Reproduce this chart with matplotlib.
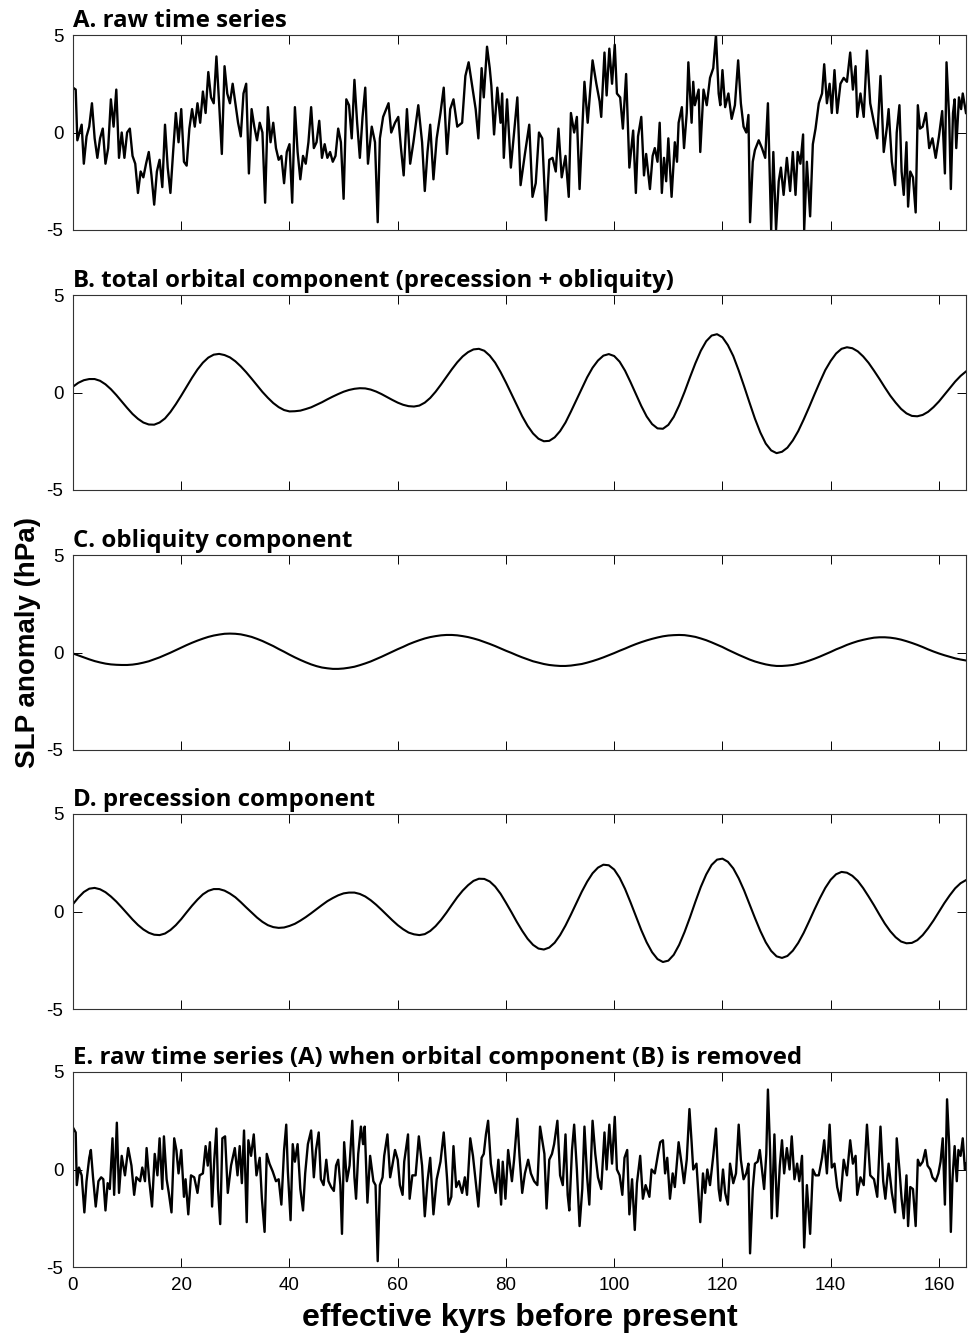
import numpy as np
import matplotlib
matplotlib.use("Agg")
import matplotlib.pyplot as plt

plt.rcParams['axes.unicode_minus'] = False
plt.rcParams['font.family'] = ['Liberation Sans', 'DejaVu Sans']

# time axis for the smooth components (kyr)
kyr = np.arange(166)

# B. total orbital component
orb_total = [0.30, 0.50, 0.63, 0.69, 0.69, 0.60, 0.42, 0.17, -0.13, -0.46,
             -0.79, -1.10, -1.35, -1.54, -1.64, -1.65, -1.54, -1.33, -1.00, -0.60,
             -0.16, 0.30, 0.76, 1.18, 1.53, 1.79, 1.94, 1.98, 1.92, 1.80,
             1.60, 1.34, 1.04, 0.71, 0.37, 0.03, -0.27, -0.54, -0.75, -0.90,
             -0.97, -0.96, -0.93, -0.85, -0.76, -0.63, -0.50, -0.35, -0.21, -0.08,
             0.04, 0.13, 0.19, 0.22, 0.21, 0.15, 0.05, -0.08, -0.23, -0.38,
             -0.52, -0.63, -0.70, -0.72, -0.67, -0.52, -0.28, 0.04, 0.41, 0.80,
             1.19, 1.55, 1.85, 2.07, 2.21, 2.24, 2.14, 1.89, 1.53, 1.05,
             0.51, -0.07, -0.66, -1.22, -1.71, -2.10, -2.37, -2.50, -2.48, -2.30,
             -1.98, -1.54, -0.98, -0.39, 0.21, 0.78, 1.27, 1.64, 1.89, 1.97,
             1.87, 1.58, 1.12, 0.54, -0.08, -0.69, -1.23, -1.62, -1.84, -1.86,
             -1.66, -1.25, -0.66, 0.03, 0.78, 1.50, 2.14, 2.63, 2.92, 2.99,
             2.83, 2.43, 1.87, 1.13, 0.32, -0.52, -1.34, -2.05, -2.62, -2.97,
             -3.11, -3.04, -2.83, -2.46, -1.98, -1.39, -0.76, -0.10, 0.54, 1.15,
             1.62, 2.00, 2.24, 2.32, 2.27, 2.11, 1.85, 1.52, 1.12, 0.70,
             0.26, -0.16, -0.52, -0.84, -1.07, -1.20, -1.22, -1.15, -0.99, -0.75,
             -0.46, -0.12, 0.22, 0.56, 0.85, 1.08]

# C. obliquity component
obliquity = [-0.05, -0.15, -0.25, -0.35, -0.44, -0.51, -0.57, -0.61, -0.63, -0.64,
             -0.64, -0.62, -0.58, -0.52, -0.45, -0.35, -0.25, -0.13, -0.01, 0.12,
             0.25, 0.38, 0.50, 0.61, 0.71, 0.80, 0.87, 0.92, 0.96, 0.97,
             0.96, 0.93, 0.87, 0.80, 0.70, 0.59, 0.46, 0.33, 0.18, 0.04,
             -0.11, -0.25, -0.38, -0.50, -0.61, -0.70, -0.77, -0.81, -0.84, -0.84,
             -0.82, -0.78, -0.73, -0.65, -0.56, -0.46, -0.34, -0.22, -0.09, 0.04,
             0.17, 0.29, 0.42, 0.53, 0.63, 0.72, 0.79, 0.84, 0.88, 0.90,
             0.90, 0.88, 0.84, 0.79, 0.72, 0.64, 0.54, 0.44, 0.33, 0.21,
             0.09, -0.02, -0.14, -0.25, -0.35, -0.45, -0.52, -0.59, -0.64, -0.67,
             -0.69, -0.69, -0.67, -0.63, -0.59, -0.52, -0.44, -0.35, -0.25, -0.14,
             -0.03, 0.09, 0.20, 0.32, 0.43, 0.53, 0.62, 0.70, 0.77, 0.83,
             0.87, 0.89, 0.90, 0.89, 0.85, 0.80, 0.72, 0.63, 0.52, 0.40,
             0.28, 0.14, 0.01, -0.12, -0.24, -0.36, -0.46, -0.54, -0.61, -0.66,
             -0.69, -0.69, -0.67, -0.64, -0.58, -0.51, -0.42, -0.32, -0.21, -0.09,
             0.03, 0.16, 0.27, 0.39, 0.49, 0.58, 0.65, 0.71, 0.76, 0.78,
             0.78, 0.76, 0.72, 0.66, 0.58, 0.49, 0.39, 0.28, 0.16, 0.05,
             -0.05, -0.14, -0.22, -0.30, -0.36, -0.41]

# D. precession component
precession = [0.38, 0.72, 1.00, 1.17, 1.21, 1.14, 0.99, 0.77, 0.51, 0.21,
              -0.10, -0.41, -0.69, -0.92, -1.09, -1.19, -1.21, -1.13, -0.95, -0.70,
              -0.39, -0.04, 0.30, 0.61, 0.88, 1.06, 1.15, 1.15, 1.07, 0.92,
              0.73, 0.48, 0.21, -0.05, -0.31, -0.53, -0.70, -0.80, -0.84, -0.82,
              -0.74, -0.63, -0.47, -0.29, -0.09, 0.12, 0.33, 0.53, 0.69, 0.83,
              0.93, 0.97, 0.97, 0.90, 0.77, 0.58, 0.35, 0.09, -0.18, -0.45,
              -0.70, -0.91, -1.08, -1.17, -1.21, -1.16, -1.00, -0.75, -0.43, -0.06,
              0.34, 0.73, 1.07, 1.35, 1.57, 1.68, 1.67, 1.54, 1.28, 0.91,
              0.45, -0.03, -0.53, -0.99, -1.40, -1.71, -1.90, -1.95, -1.85, -1.60,
              -1.21, -0.72, -0.16, 0.43, 1.01, 1.53, 1.96, 2.25, 2.40, 2.37,
              2.15, 1.73, 1.16, 0.48, -0.24, -0.95, -1.58, -2.09, -2.44, -2.59,
              -2.52, -2.22, -1.71, -1.05, -0.30, 0.50, 1.26, 1.90, 2.39, 2.66,
              2.71, 2.55, 2.21, 1.70, 1.08, 0.38, -0.33, -1.00, -1.58, -2.02,
              -2.30, -2.38, -2.28, -2.01, -1.61, -1.10, -0.51, 0.10, 0.68, 1.21,
              1.63, 1.91, 2.03, 1.99, 1.83, 1.57, 1.20, 0.77, 0.32, -0.16,
              -0.62, -1.01, -1.32, -1.54, -1.63, -1.61, -1.47, -1.21, -0.86, -0.46,
              -0.01, 0.43, 0.83, 1.19, 1.45, 1.61]

# A. raw time series (time, value)
raw_t = [0.0, 0.5, 0.8, 1.2, 1.6, 2.0, 2.5, 3.0, 3.5, 4.0, 4.5, 5.0, 5.5, 6.0, 6.5,
         7.0, 7.5, 8.0, 8.5, 9.0, 9.5, 10.0, 10.5, 11.0, 11.5, 12.0, 12.5, 13.0, 13.5,
         14.0, 14.5, 15.0, 15.5, 16.0, 16.5, 17.0, 17.5, 18.0, 18.5, 19.0, 19.5, 20.0,
         20.5, 21.0, 21.5, 22.0, 22.5, 23.0, 23.5, 24.0, 24.5, 25.0, 25.5, 26.0, 26.5,
         27.0, 27.5, 28.0, 28.5, 29.0, 29.5, 30.0, 30.5, 31.0, 31.5, 32.0, 32.5, 33.0,
         33.5, 34.0, 34.5, 35.0, 35.5, 36.0, 36.5, 37.0, 37.5, 38.0, 38.5, 39.0, 39.5,
         40.0, 40.5, 41.0, 41.5, 42.0, 42.5, 43.0, 43.5, 44.0, 44.5, 45.0, 45.5, 46.0,
         46.5, 47.0, 47.5, 48.0, 48.5, 49.0, 49.5, 50.0, 50.5, 51.0, 51.5, 52.0, 52.5,
         53.0, 53.5,
         54.0, 54.5, 55.2, 55.8, 56.3, 56.7, 57.3, 58.3, 58.8, 59.5, 60.1, 60.6, 61.1,
         61.7, 62.3, 62.9, 63.8, 64.5, 65.0, 65.5, 66.0, 66.6, 67.2, 67.9, 68.5, 69.1,
         69.7, 70.3, 71.0, 71.9, 72.5, 73.1, 73.7, 74.4, 74.9, 75.5, 75.9, 76.5, 77.0,
         77.3, 77.8, 78.4, 79.0, 79.3, 79.6, 80.2, 80.9, 81.5, 82.1, 82.7, 83.5, 84.3,
         84.9, 85.5, 86.1, 86.7, 87.4, 88.0, 88.6, 89.2, 89.7, 90.3, 91.0, 91.6, 92.0,
         92.6, 93.1, 93.6, 94.5, 95.1, 96.0, 96.7, 97.3, 97.6, 98.2, 98.6, 99.1, 99.6,
         100.1, 100.5, 101.1, 101.6, 102.2, 102.8, 103.5, 104.0, 104.4, 105.0, 105.5,
         105.9, 106.6, 107.1, 107.5, 108.0, 108.4,
         108.8, 109.2, 109.6, 110.0, 110.6, 111.2, 111.6, 111.9, 112.5, 112.9, 113.4,
         113.7, 114.3, 114.6, 114.9, 115.6, 115.9, 116.5, 117.1, 117.7, 118.3, 118.8,
         119.3, 119.6, 120.0, 120.5, 121.1, 121.7, 122.3, 122.9, 123.4, 123.9, 124.4,
         124.8, 125.1, 125.6, 126.0, 126.7, 127.3, 127.9, 128.4, 129.0, 129.4, 129.9,
         130.4, 130.8, 131.3, 131.9, 132.5, 133.0, 133.5, 133.9, 134.4, 134.9, 135.1,
         135.6, 136.2, 136.7, 137.2, 137.8, 138.4, 138.8, 139.3, 139.8, 140.2, 140.7,
         141.2, 141.8, 142.4, 143.0, 143.6, 144.1, 144.6, 144.9, 145.5, 146.1, 146.7,
         147.3, 148.0, 148.6, 149.2, 149.8, 150.4, 150.7, 151.3, 151.9, 152.2, 152.7,
         153.1, 153.5, 154.0, 154.3, 154.7, 155.2, 155.7, 156.1, 156.5, 157.0, 157.6,
         158.2, 158.8, 159.4, 160.0, 160.6, 161.1, 161.4, 161.9, 162.2, 162.6, 162.9,
         163.2, 163.7, 164.1, 164.4, 164.7, 165.0]
raw_v = [2.3, 2.2, -0.4, 0.0, 0.4, -1.6, -0.2, 0.3, 1.5, -0.3, -1.3, -0.3, 0.2, -1.6, -0.8,
         1.7, 0.3, 2.2, -1.3, 0.0, -1.3, 0.0, 0.2, -1.2, -1.6, -3.1, -2.0, -2.3, -1.6,
         -1.0, -2.2, -3.7, -2.0, -1.4, -2.8, 0.4, -1.8, -3.1, -1.0, 1.0, -0.5, 1.2,
         -1.5, -1.7, 0.2, 1.2, 0.3, 1.5, 0.5, 2.1, 1.0, 3.1, 1.8, 1.5, 3.9,
         1.5, -1.1, 3.4, 2.0, 1.5, 2.5, 1.5, 0.5, -0.2, 2.0, 2.5, -2.1, 1.2,
         0.3, -0.4, 0.5, 0.0, -3.6, 1.3, -0.5, 0.5, -0.8, -1.4, -1.2, -2.6, -1.0,
         -0.6, -3.6, 1.3, -1.0, -2.4, -1.2, -1.6, -0.5, 1.3, -0.8, -0.5, 0.6, -1.3,
         -0.6, -1.3, -1.0, -1.5, -1.2, 0.2, -0.5, -3.4, 1.7, 1.4, -0.3, 2.7, 0.5,
         -1.3, 0.8,
         2.3, -1.6, 0.3, -0.5, -4.6, -0.3, 0.8, 1.5, 0.0, 0.5, 0.8, -0.8, -2.2,
         1.2, -1.6, -0.5, 1.4, -0.5, -3.0, -1.0, 0.4, -2.4, -0.3, 1.0, 2.3, -1.1,
         1.2, 1.7, 0.3, 0.5, 2.9, 3.6, 2.5, 1.2, -0.3, 3.3, 1.8, 4.4, 3.3,
         2.4, -0.1, 2.3, 0.5, 2.0, -1.3, 1.7, -1.8, 0.0, 1.8, -2.7, -1.1, 0.4,
         -3.3, -2.6, 0.0, -0.3, -4.5, -1.4, -1.3, -2.0, 0.2, -2.3, -1.2, -3.3, 1.0,
         0.0, 0.8, -2.9, 2.6, 0.5, 3.7, 2.5, 1.6, 0.8, 4.1, 1.9, 4.3, 2.5,
         4.5, 2.0, 1.8, 0.2, 3.0, -1.8, 0.1, -3.1, -0.2, 0.8, -2.2,
         -1.1, -2.9, -1.2, -0.8, -1.5, 0.5,
         -3.1, -1.3, -2.5, -0.3, -3.3, -0.5, -1.5, 0.5, 1.3, -0.8, 1.0,
         3.6, 0.5, 2.6, 1.4, 2.2, -1.0, 2.2, 1.4, 2.8, 3.3, 5.0,
         2.0, 1.4, 3.2, 1.3, 2.0, 0.7, 1.4, 3.7, 1.5, 0.3, 0.0,
         0.9, -4.6, -1.5, -0.9, -0.4, -0.8, -1.3, 1.5, -5.0, -1.0, -5.0,
         -2.5, -1.8, -3.2, -1.3, -3.0, -1.0, -3.2, -1.0, -1.6, -0.1, -5.0,
         -1.5, -4.3, -0.6, 0.2, 1.5, 2.0, 3.5, 1.5, 2.5, 1.0, 3.2,
         1.0, 2.5, 2.8, 2.6, 4.1, 2.2, 3.4, 0.8, 2.0, 0.8, 4.2,
         1.5, 0.5, -0.3, 2.9, -1.0, 0.3, 1.2, -1.5, -2.7, 0.0, 1.4,
         -2.0, -3.2, -0.5, -3.8, -2.0, -2.3, -4.1, 1.4, 0.2, 0.3, 1.0,
         -0.8, -0.3, -1.3, -0.2, 1.1, -2.1, 3.6, 0.7, -2.9, 1.0, 1.7,
         -0.8, 1.8, 1.2, 2.0, 1.5, 1.0]

# E. raw time series with orbital component removed (time, value)
resid_t = [0.1, 0.5, 0.7, 1.1, 1.6, 2.1, 2.5, 3.0, 3.3, 3.7, 4.2, 4.7, 5.2, 5.6, 6.0,
           6.4, 6.8, 7.3, 7.6, 8.1, 8.5, 9.0, 9.6, 10.2, 10.8, 11.3, 11.7, 12.4, 12.8,
           13.3, 13.6, 14.1, 14.6, 15.1, 15.6, 16.0, 16.5, 16.8, 17.3, 17.7, 18.2, 18.7,
           19.1, 19.5, 20.0, 20.5, 20.8, 21.3, 21.8, 22.4, 23.0, 23.4, 24.0, 24.5, 24.9,
           25.3, 25.7, 26.1, 26.5, 26.8, 27.2, 27.6, 28.1, 28.6, 29.2, 29.9, 30.4, 30.8,
           31.2, 31.6, 32.1, 32.4, 32.9, 33.4, 33.9, 34.5, 34.9, 35.4, 35.8, 36.3, 36.9,
           37.5, 38.0, 38.5, 39.0, 39.4, 39.7, 40.2, 40.6, 41.0, 41.5, 42.0, 42.5, 42.9,
           43.4, 44.0, 44.5, 44.9, 45.4, 45.8, 46.3, 46.8, 47.2, 47.7, 48.2, 48.6, 49.0,
           49.4, 49.7, 50.1, 50.6, 51.1, 51.6, 52.0, 52.3, 52.7, 53.2, 53.6,
           53.9, 54.4, 54.9, 55.5, 55.9, 56.3, 56.7, 57.2, 57.5, 58.1, 58.6, 59.0, 59.5,
           60.0, 60.4, 60.9, 61.2, 61.9, 62.2, 62.7, 63.3, 63.9, 64.5, 65.0, 65.5, 66.0,
           66.6, 67.2, 67.9, 68.5, 69.1, 69.4, 69.9, 70.3, 70.8, 71.3, 71.9, 72.4, 72.8,
           73.4, 73.9, 74.4, 74.9, 75.5, 75.9, 76.3, 76.7, 77.2, 77.6, 78.1, 78.6, 79.1,
           79.4, 79.9, 80.4, 81.1, 81.5, 82.1, 82.5, 83.0, 83.5, 84.1, 84.6, 85.2, 85.8,
           86.3, 86.7, 87.1, 87.5, 88.0, 88.5, 88.9, 89.5, 90.0, 90.5, 91.0, 91.4, 91.7,
           92.2, 92.6, 93.1, 93.6, 94.1, 94.5, 95.0, 95.4, 96.0, 96.5, 97.0, 97.6, 98.2,
           98.6, 99.1, 99.6, 100.1, 100.5, 101.0, 101.5, 101.9, 102.4, 102.8, 103.3,
           103.8, 104.2, 104.8, 105.3, 105.8, 106.5, 106.9, 107.5, 108.1, 108.5,
           109.0, 109.4, 109.8, 110.3, 110.8, 111.2, 111.9, 112.5, 112.9, 113.4, 113.9,
           114.3, 114.6, 115.2, 115.9, 116.4, 116.8, 117.2, 117.7, 118.3, 118.8, 119.3,
           119.6, 120.1, 120.5, 121.0, 121.4, 122.0, 122.5, 123.0, 123.4, 123.9, 124.4,
           124.8, 125.1, 125.6, 126.0, 126.5, 126.9, 127.3, 127.7, 128.1, 128.4, 128.8,
           129.1, 129.6, 130.1, 130.6, 131.0, 131.4, 131.9, 132.4, 132.8, 133.3, 133.8,
           134.2, 134.7, 135.1, 135.6, 136.2, 136.7, 137.2, 137.8, 138.4, 138.8, 139.3,
           139.8, 140.2, 140.7, 141.2, 141.8, 142.4, 143.0, 143.6, 144.1, 144.6, 144.9,
           145.5, 146.1, 146.7, 147.3, 148.0, 148.6, 149.2, 149.7, 150.1, 150.7, 151.3,
           151.9, 152.2, 152.7, 153.1, 153.5, 154.0, 154.3, 154.7, 155.2, 155.7, 156.1,
           156.5, 157.0, 157.5, 157.9, 158.4, 158.8, 159.4, 159.9, 160.3, 160.7, 161.1,
           161.5, 161.9, 162.2, 162.5, 162.9, 163.3, 163.6, 164.0, 164.4, 164.8, 165.0]
resid_v = [2.1, 1.9, -0.8, 0.1, -0.3, -2.2, -0.6, 0.6, 1.0, -0.4, -1.9, -0.6, -0.4, -0.5, -2.1,
           -0.7, -1.0, 1.6, -1.3, 2.4, -1.2, 0.7, -0.3, 1.1, 0.2, -1.3, -0.4, -0.6, 0.1,
           -0.6, 1.1, -0.6, -1.9, 0.8, -0.3, 1.6, -1.0, 1.7, -0.5, -1.2, -2.2, 1.6,
           1.0, -0.2, 1.0, -1.4, -0.5, -2.3, -0.3, -0.4, -1.2, -0.3, -0.2, 1.2, 0.2,
           1.4, -1.9, 0.5, 2.1, -1.0, -2.8, 1.6, 1.7, -1.2, 0.2, 1.1, -0.3, 1.2,
           -0.7, 2.0, -2.7, 1.5, 0.7, 1.8, -0.3, 0.6, -1.5, -3.2, 0.8, 0.3, -0.1,
           -0.6, -0.5, -1.8, 1.0, 2.3, -0.1, -2.6, 1.3, 0.4, 1.3, -1.0, -2.1, -0.2,
           1.3, 2.0, -0.4, 1.0, 1.9, -0.5, -0.8, 0.5, -0.6, -0.9, -1.1, 0.2, 0.5,
           -0.8, -3.3, 1.4, -0.6, 0.2, 2.5, -0.4, -1.5, 0.8, 2.2, 1.3,
           2.2, -1.7, 0.7, -0.6, -0.8, -4.7, -0.8, -0.4, 0.7, 1.8, -0.4, 0.2, 1.0,
           0.5, -0.8, -1.3, 0.4, 1.8, -1.5, -0.3, -0.3, 1.7, 0.2, -2.4, -0.6, 0.6,
           -2.3, -0.5, 0.4, 1.9, -0.4, -1.8, -1.4, 1.2, -0.9, -0.6, -1.2, -0.4, -1.3,
           1.6, 0.7, -0.6, -1.9, 0.6, 0.8, 1.8, 2.5, 0.3, -0.4, -1.2, 0.5, -1.8,
           0.4, -1.5, 1.0, -0.6, 0.5, 2.6, 0.7, -1.2, -0.2, 0.5, -0.2, -0.6, -0.8,
           2.2, 1.5, 0.8, -2.0, 0.5, 0.8, 1.3, 2.5, -0.3, -0.8, 1.8, -1.3, -2.1,
           1.0, 2.3, 0.0, -2.9, -1.0, 2.2, -0.4, -1.8, 2.5, 0.8, -0.4, -1.0, 1.9,
           0.0, 2.3, 0.3, 2.7, 0.0, -0.3, -1.3, 0.6, 1.0, -2.3, -0.5,
           -3.1, -0.7, 0.7, -1.5, -0.8, -1.4, 0.0, -0.2, 0.8, 1.4,
           1.5, -0.2, 0.6, -1.5, -0.2, -0.9, 1.4, 0.2, -0.7, 0.5, 3.1,
           1.4, 0.0, 0.3, -2.7, -0.2, -1.2, 0.0, -0.8, 0.7, 2.1, -1.0,
           -1.6, 0.0, -1.2, -1.8, 0.3, -0.7, -0.2, 2.3, 0.5, -0.5, -0.2,
           0.3, -4.3, -1.0, 0.3, 0.4, 1.0, 0.0, -1.0, 0.8, 4.1, 1.0,
           -2.5, 1.8, -2.4, 0.2, 1.5, -0.2, 1.1, 0.0, 1.7, -0.5, 0.3,
           -0.6, 0.7, -4.0, -0.8, -3.3, 0.0, -0.3, -0.3, 0.6, 1.5, -0.2,
           2.3, 0.1, 0.3, -0.9, -1.6, 0.5, -0.3, 1.5, 0.3, 0.7, -1.3,
           -0.4, -0.8, 2.3, -0.3, -0.5, -1.4, 2.2, -0.6, -1.5, 0.3, -1.2,
           -2.2, 1.6, 0.0, -1.5, -2.5, -0.3, -2.9, -0.9, -1.0, -2.9, 0.5,
           0.2, 0.4, 1.0, 0.2, 0.0, -0.4, -0.6, -0.2, 0.4, 1.6, -1.8,
           3.6, 1.2, -3.2, -0.5, 1.2, -0.6, 1.0, 0.7, 1.6, 0.0, 0.3]

titles = ['A. raw time series',
          'B. total orbital component (precession + obliquity)',
          'C. obliquity component',
          'D. precession component',
          'E. raw time series (A) when orbital component (B) is removed']
xticks = [0, 20, 40, 60, 80, 100, 120, 140, 160]
yticks = [-5, 0, 5]

W, H = 968, 1343
fig = plt.figure(figsize=(W / 100, H / 100), dpi=100)

# panel tops in pixels, common height
tops = [35, 295, 555, 814, 1072]
ph = 195
left, right = 73, 966

series = [(raw_t, raw_v), (kyr, orb_total), (kyr, obliquity),
          (kyr, precession), (resid_t, resid_v)]
widths = [1.7, 1.5, 1.5, 1.5, 1.7]

for i in range(5):
    ax = fig.add_axes([left / W, 1 - (tops[i] + ph) / H, (right - left) / W, ph / H])
    x, y = series[i]
    ax.plot(x, y, color='black', lw=widths[i])
    ax.set_xlim(0, 165)
    ax.set_ylim(-5, 5)
    ax.set_xticks(xticks)
    ax.set_yticks(yticks)
    ax.tick_params(direction='in', length=6.5, width=0.7, top=True, right=True,
                   labelsize=13.5, pad=7, colors='black')
    if i < 4:
        ax.set_xticklabels([])
    for s in ax.spines.values():
        s.set_linewidth(0.8)
        s.set_color('#333333')
    ax.set_title(titles[i], loc='left', fontsize=17.3, fontweight='bold',
                 family=['Open Sans', 'DejaVu Sans'], pad=5.5)

fig.text(28 / W, 1 - 642 / H, 'SLP anomaly (hPa)', rotation=90, ha='center',
         va='center', fontsize=20, fontweight='bold')
fig.text((left + right) / 2 / W, 1 - 1318 / H, 'effective kyrs before present',
         ha='center', va='center', fontsize=23, fontweight='bold')

fig.savefig('out.png', dpi=100)
